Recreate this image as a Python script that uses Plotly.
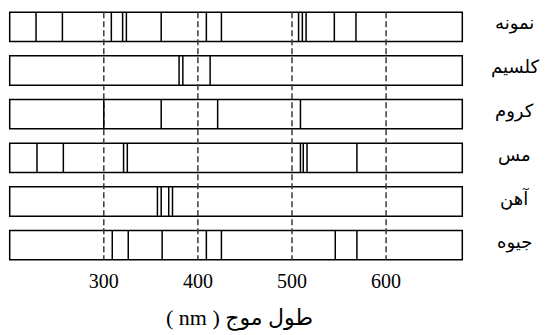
import plotly.graph_objects as go

# ---- data ----
elements = ["نمونه", "کلسیم", "کروم", "مس", "آهن", "جیوه"]
sample_lines = [228, 256, 308, 320, 324, 361, 409, 425, 507, 511, 515, 545, 568]
calcium_lines = [380, 384, 413]
chromium_lines = [300, 361, 421, 509]
copper_lines = [229, 257, 321, 325, 509, 512, 516, 569]
iron_lines = [357, 361, 369, 373]
mercury_lines = [309, 326, 362, 409, 425, 546, 569]
tick_values = [300, 400, 500, 600]
tick_labels = ["300", "400", "500", "600"]
guide_lines = [300, 400, 500, 600]
wl_min, wl_max = 200, 681
axis_title = "( nm ) طول موج"

all_lines = [sample_lines, calcium_lines, chromium_lines, copper_lines, iron_lines, mercury_lines]

H = 0.335  # half height of a strip (in row units)

fig = go.Figure()

# strips (boxes)
for i, name in enumerate(elements):
    fig.add_shape(type="rect", xref="x", yref="y", x0=wl_min, x1=wl_max,
                  y0=i - H, y1=i + H, line=dict(color="black", width=1.5),
                  fillcolor="white", layer="below")

# dashed guide lines
gx, gy = [], []
for v in guide_lines:
    gx += [v, v, None]
    gy += [-H, len(elements) - 1 + H, None]
fig.add_trace(go.Scatter(x=gx, y=gy, mode="lines",
                         line=dict(color="#3a3a3a", width=1.5, dash="6px,3px"),
                         hoverinfo="skip", showlegend=False))

# spectral lines
for i, lines in enumerate(all_lines):
    lx, ly = [], []
    for v in lines:
        lx += [v, v, None]
        ly += [i - H, i + H, None]
    fig.add_trace(go.Scatter(x=lx, y=ly, mode="lines",
                             line=dict(color="black", width=1.5),
                             hoverinfo="skip", showlegend=False))

# element labels on the right
for i, name in enumerate(elements):
    fig.add_annotation(x=1.103, xref="paper", y=i - 0.08, yref="y",
                       text=name, showarrow=False, xanchor="center", yanchor="middle",
                       font=dict(family="DejaVu Sans", size=18, color="black"))

# axis title
fig.add_annotation(x=0.508, xref="paper", y=-0.193, yref="paper",
                   text=axis_title, showarrow=False, xanchor="center", yanchor="middle",
                   font=dict(family="Liberation Serif, DejaVu Sans", size=22, color="black"))

fig.update_xaxes(range=[195, 686], tickvals=tick_values, ticktext=tick_labels,
                 showgrid=False, zeroline=False, showline=False, ticks="",
                 tickfont=dict(family="Liberation Serif", size=20, color="black"))
fig.update_yaxes(range=[len(elements) - 0.5, -0.5], visible=False)

fig.update_layout(width=546, height=335, plot_bgcolor="white", paper_bgcolor="white",
                  margin=dict(l=5.3, r=78.6, t=5, b=67.6), showlegend=False)

fig.write_html("out.html", config={"displayModeBar": False},
               post_script="document.body.style.margin='0';document.body.style.padding='0';")
